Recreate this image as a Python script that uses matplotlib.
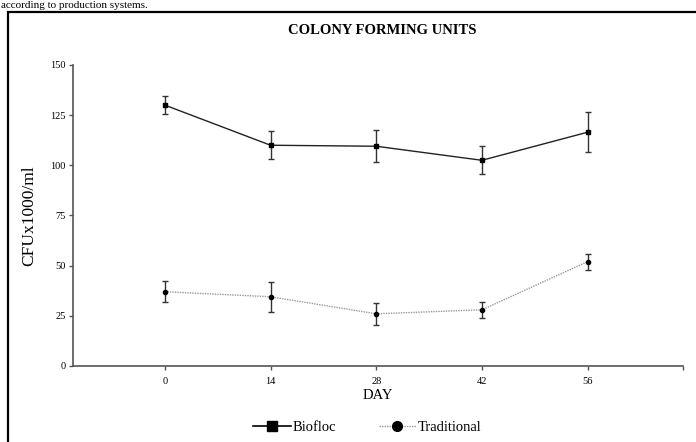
import matplotlib
matplotlib.use('Agg')
import matplotlib.pyplot as plt
from matplotlib.lines import Line2D
from matplotlib.patches import Rectangle

plt.rcParams['font.family'] = ['Liberation Serif', 'DejaVu Serif']

# data
days = [0, 14, 28, 42, 56]
biofloc = [130, 110, 109.5, 102.5, 116.5]
biofloc_err = [4.5, 7, 8, 7, 10]
traditional = [37, 34.5, 26, 28, 52]
traditional_err = [5.3, 7.5, 5.5, 4, 4]
y_ticks = [0, 25, 50, 75, 100, 125, 150]

fig = plt.figure(figsize=(6.96, 4.42), dpi=100)
ax = fig.add_axes([0.1045, 0.172, 0.8765, 0.681])

axis_grey = '#555555'

ax.errorbar(days, biofloc, yerr=biofloc_err, color='#222222', lw=1.0,
            marker='s', ms=3, mfc='black', mec='black',
            ecolor='#333333', elinewidth=1.0, capsize=2.2, capthick=1.0)
ax.errorbar(days, traditional, yerr=traditional_err, color='#999999', lw=1.0,
            ls=(0, (1, 0.8)), marker='o', ms=3, mfc='black', mec='black',
            ecolor='#333333', elinewidth=1.0, capsize=2.2, capthick=1.0)

ax.set_xlim(-12.2, 68.6)
ax.set_ylim(0, 150)
ax.set_xticks(days)
ax.set_xticks([68.6], minor=True)
ax.set_yticks(y_ticks)
ax.tick_params(axis='both', labelsize=7.5, length=3, width=1.0, color=axis_grey, pad=2)
ax.tick_params(axis='x', which='minor', length=3, width=1.0, color=axis_grey)
ax.tick_params(axis='x', pad=5)

for side in ['top', 'right']:
    ax.spines[side].set_visible(False)
for side in ['left', 'bottom']:
    ax.spines[side].set_color(axis_grey)
    ax.spines[side].set_linewidth(1.2)

ax.set_xlabel('DAY', fontsize=10.5, labelpad=2)
ax.set_ylabel('CFUx1000/ml', fontsize=12.5)
ax.yaxis.set_label_coords(-0.058, 0.5)

fig.text(0.549, 0.932, 'COLONY FORMING UNITS', ha='center', va='center',
         fontsize=10.5, fontweight='bold')

handles = [
    Line2D([], [], color='black', lw=1.2, marker='s', ms=7),
    Line2D([], [], color='#999999', lw=1.0, ls=(0, (1, 0.8)), marker='o',
           ms=7, mfc='black', mec='black'),
]
fig.legend(handles, ['Biofloc', 'Traditional'], loc='center',
           bbox_to_anchor=(0.528, 0.032), ncol=2, frameon=False,
           fontsize=10.5, handlelength=2.6, handletextpad=0.1,
           columnspacing=2.9)

# frame of the page and the caption line above it
fig.patches.append(Rectangle((8 / 696, -0.1), 1.2, 1.1 - 12 / 442,
                             transform=fig.transFigure, fill=False,
                             ec='black', lw=1.6))
fig.text(0.002, 1 - 1 / 442, 'according to production systems.', ha='left',
         va='top', fontsize=8)

fig.savefig('out.png', dpi=100)
